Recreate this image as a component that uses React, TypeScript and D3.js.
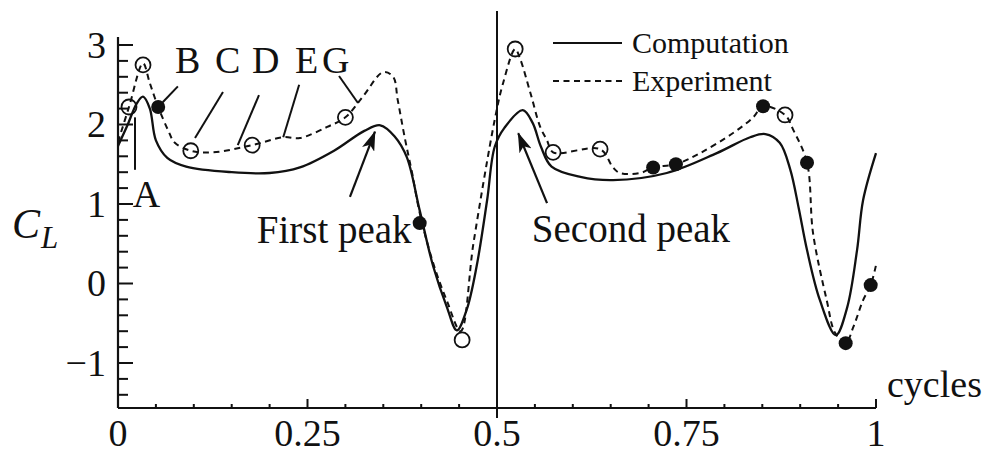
import React from 'react';
import * as d3 from 'd3';

// Lift coefficient over one flapping cycle
const compT = [0, 0.012, 0.025, 0.033, 0.042, 0.05, 0.065, 0.09, 0.15, 0.2, 0.24, 0.285, 0.325, 0.346, 0.365, 0.381, 0.398, 0.416, 0.434, 0.447, 0.46, 0.473, 0.487, 0.497, 0.51, 0.534, 0.547, 0.558, 0.572, 0.61, 0.653, 0.724, 0.79, 0.834, 0.854, 0.873, 0.887, 0.898, 0.909, 0.926, 0.947, 0.962, 0.975, 0.983, 1.0];
const compCL = [1.73, 1.98, 2.27, 2.35, 2.2, 1.8, 1.58, 1.47, 1.4, 1.39, 1.46, 1.67, 1.92, 1.99, 1.85, 1.59, 0.92, 0.21, -0.3, -0.59, -0.33, 0.21, 1.05, 1.72, 1.96, 2.18, 2.02, 1.72, 1.47, 1.34, 1.3, 1.39, 1.64, 1.84, 1.88, 1.77, 1.43, 0.95, 0.42, -0.21, -0.65, -0.3, 0.42, 1.05, 1.64];

const expT = [0, 0.0145, 0.033, 0.042, 0.053, 0.066, 0.075, 0.096, 0.125, 0.177, 0.218, 0.24, 0.276, 0.3, 0.323, 0.35, 0.363, 0.369, 0.379, 0.388, 0.398, 0.416, 0.434, 0.452, 0.469, 0.497, 0.508, 0.524, 0.53, 0.544, 0.557, 0.566, 0.574, 0.636, 0.653, 0.662, 0.689, 0.706, 0.736, 0.768, 0.811, 0.838, 0.851, 0.88, 0.891, 0.909, 0.917, 0.935, 0.946, 0.96, 0.97, 0.983, 0.993, 1.0];
const expCL = [1.78, 2.22, 2.77, 2.52, 2.22, 1.93, 1.77, 1.67, 1.65, 1.74, 1.84, 1.83, 1.97, 2.09, 2.35, 2.66, 2.6, 2.31, 1.8, 1.39, 0.89, 0.25, -0.22, -0.6, 0.51, 2.06, 2.52, 2.95, 2.84, 2.4, 1.97, 1.8, 1.65, 1.69, 1.46, 1.39, 1.39, 1.46, 1.5, 1.64, 1.89, 2.09, 2.23, 2.12, 1.93, 1.52, 0.63, -0.21, -0.62, -0.75, -0.55, -0.21, -0.02, 0.23];

// Measured points: open and filled symbols
const openT = [0.0145, 0.033, 0.096, 0.177, 0.3, 0.454, 0.524, 0.574, 0.636, 0.88];
const openCL = [2.22, 2.75, 1.67, 1.74, 2.09, -0.71, 2.95, 1.65, 1.69, 2.12];
const filledT = [0.053, 0.398, 0.706, 0.736, 0.851, 0.909, 0.96, 0.993];
const filledCL = [2.22, 0.76, 1.46, 1.5, 2.23, 1.52, -0.75, -0.02];

const xTickLabels = ['0', '0.25', '0.5', '0.75', '1'];
const xTickValues = [0, 0.25, 0.5, 0.75, 1];
const yTickLabels = ['\u22121', '0', '1', '2', '3'];
const yTickValues = [-1, 0, 1, 2, 3];

// Snapshot labels with leader lines
const snapLabels = ['A', 'B', 'C', 'D', 'E', 'G'];
const snapTextT = [0.0195, 0.0752, 0.128, 0.1768, 0.2335, 0.2691];
const snapTextCL = [0.96, 2.65, 2.65, 2.65, 2.65, 2.65];
const snapLineFrom = [[0.0224, 2.09], [0.079, 2.48], [0.1385, 2.41], [0.186, 2.37], [0.239, 2.5], [0.2916, 2.61]];
const snapLineTo = [[0.0224, 1.43], [0.059, 2.28], [0.1016, 1.83], [0.158, 1.74], [0.218, 1.84], [0.3166, 2.27]];

// Peak call-outs
const peakLabels = ['First peak', 'Second peak'];
const peakTextAt = [[0.183, 0.51], [0.546, 0.52]];
const peakArrowFrom = [[0.306, 1.09], [0.566, 1.01]];
const peakArrowTo = [[0.339, 1.91], [0.528, 1.89]];

const FONT = '"Liberation Serif", "Times New Roman", serif';

export default function App() {
  const x = d3.scaleLinear().domain([0, 1]).range([118, 876]);
  const y = d3.scaleLinear().domain([-1, 3]).range([363, 45]);

  const xAxisY = 408;
  const yAxisTop = 37;

  const line = d3
    .line<[number, number]>()
    .x((d) => x(d[0]))
    .y((d) => y(d[1]))
    .curve(d3.curveCatmullRom.alpha(0.5));

  const compPath = line(compT.map((t, i) => [t, compCL[i]]) as [number, number][]) || '';
  const expPath = line(expT.map((t, i) => [t, expCL[i]]) as [number, number][]) || '';

  const yMinor = d3.range(-7, 16).map((k) => k * 0.2);
  const xMinor = d3.range(1, 21).map((k) => k * 0.05);
  const isMajorY = (v: number) => Math.abs(v - Math.round(v)) < 1e-6;
  const isMajorX = (v: number) => Math.abs(v * 4 - Math.round(v * 4)) < 1e-6;

  return (
    <svg
      width={992}
      height={459}
      style={{ position: 'absolute', left: 0, top: 0, background: '#fff' }}
      fontFamily={FONT}
    >
      <defs>
        <marker id="arrowHead" viewBox="0 0 20 13" refX="19" refY="6.5" markerWidth="20" markerHeight="13" markerUnits="userSpaceOnUse" orient="auto">
          <path d="M0,0 L20,6.5 L0,13 L5,6.5 Z" fill="#111" />
        </marker>
      </defs>

      {/* axes */}
      <line x1={x(0)} x2={x(0)} y1={yAxisTop} y2={xAxisY} stroke="#111" strokeWidth={2.2} />
      <line x1={x(0)} x2={x(1)} y1={xAxisY} y2={xAxisY} stroke="#111" strokeWidth={2.2} />
      {yMinor.map((v) => (
        <line key={'yt' + v.toFixed(2)} x1={x(0)} x2={x(0) + (isMajorY(v) ? 15 : 10)} y1={y(v)} y2={y(v)} stroke="#111" strokeWidth={2} />
      ))}
      {xMinor.map((v) => (
        <line key={'xt' + v.toFixed(2)} x1={x(v)} x2={x(v)} y1={xAxisY} y2={xAxisY - (isMajorX(v) ? 9 : 4)} stroke="#111" strokeWidth={2} />
      ))}
      {yTickValues.map((v, i) => (
        <text key={'yl' + v} x={106} y={y(v) + 12.5} fontSize={38} textAnchor="end" fill="#111">
          {yTickLabels[i]}
        </text>
      ))}
      {xTickValues.map((v, i) => (
        <text key={'xl' + v} x={x(v)} y={446} fontSize={38} textAnchor="middle" fill="#111">
          {xTickLabels[i]}
        </text>
      ))}
      <text x={887} y={397} fontSize={38} fill="#111">cycles</text>
      <text x={12} y={238} fill="#111" fontStyle="italic" fontSize={42}>C</text>
      <text x={41} y={248} fill="#111" fontStyle="italic" fontSize={31}>L</text>

      {/* half-cycle divider */}
      <line x1={x(0.5)} x2={x(0.5)} y1={11} y2={418} stroke="#111" strokeWidth={2} />

      {/* curves */}
      <path d={compPath} fill="none" stroke="#111" strokeWidth={2.3} />
      <path d={expPath} fill="none" stroke="#111" strokeWidth={2} strokeDasharray="6 4.5" />

      {/* symbols */}
      {openT.map((t, i) => (
        <circle key={'o' + i} cx={x(t)} cy={y(openCL[i])} r={7.5} fill="none" stroke="#111" strokeWidth={1.8} />
      ))}
      {filledT.map((t, i) => (
        <circle key={'f' + i} cx={x(t)} cy={y(filledCL[i])} r={7} fill="#111" />
      ))}

      {/* snapshot labels */}
      {snapLabels.map((s, i) => (
        <g key={'s' + s}>
          <line x1={x(snapLineFrom[i][0])} y1={y(snapLineFrom[i][1])} x2={x(snapLineTo[i][0])} y2={y(snapLineTo[i][1])} stroke="#111" strokeWidth={2} />
          <text x={x(snapTextT[i])} y={y(snapTextCL[i])} fontSize={38} fill="#111">{s}</text>
        </g>
      ))}

      {/* peak call-outs */}
      {peakLabels.map((s, i) => (
        <g key={'p' + i}>
          <line
            x1={x(peakArrowFrom[i][0])}
            y1={y(peakArrowFrom[i][1])}
            x2={x(peakArrowTo[i][0])}
            y2={y(peakArrowTo[i][1])}
            stroke="#111"
            strokeWidth={2.2}
            markerEnd="url(#arrowHead)"
          />
          <text x={x(peakTextAt[i][0])} y={y(peakTextAt[i][1])} fontSize={39} fill="#111">{s}</text>
        </g>
      ))}

      {/* legend */}
      <line x1={553} x2={622} y1={43} y2={43} stroke="#111" strokeWidth={2.2} />
      <text x={632} y={53} fontSize={30} fill="#111">Computation</text>
      <line x1={553} x2={622} y1={81} y2={81} stroke="#111" strokeWidth={2} strokeDasharray="6 4.5" />
      <text x={632} y={91} fontSize={30} fill="#111">Experiment</text>
    </svg>
  );
}
